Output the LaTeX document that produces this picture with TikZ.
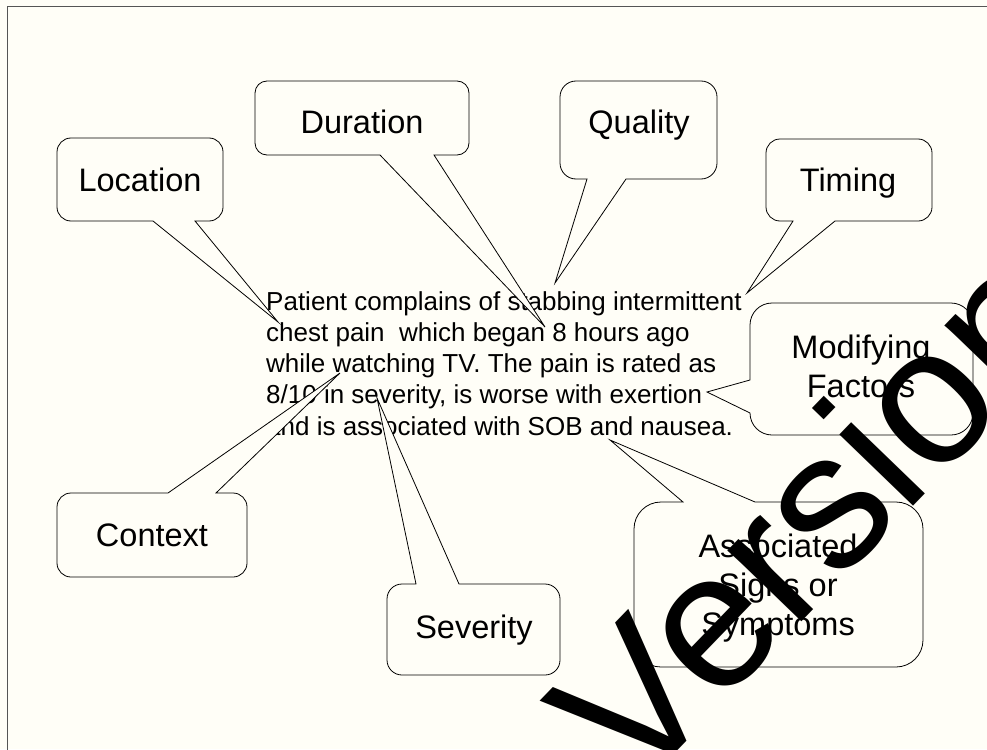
\documentclass[tikz,border=0pt]{standalone}
\usepackage{fontspec}
\setmainfont{Liberation Sans}
\definecolor{bg}{RGB}{255,254,247}
\definecolor{framec}{RGB}{85,85,85}
\tikzset{
  cbox/.style={draw=black, fill=bg, line width=0.8pt, line join=miter},
  lbl/.style={inner sep=0pt, anchor=base, font=\fontsize{32.5}{39}\selectfont},
  bodytext/.style={inner sep=0pt, anchor=base west, font=\fontsize{26}{31}\selectfont},
  wmark/.style={inner sep=0pt, anchor=base west, rotate=46, font=\fontsize{194}{194}\selectfont},
}
% x1 y1 x2 y2 r b1 b2 tip   (image coordinates, y downwards)
\newcommand\cbBottom[8]{%
  \draw[cbox] ({#1+#5},{-#2}) -- ({#3-#5},{-#2})
    arc[start angle=90,end angle=0,radius=#5] -- ({#3},{-#4+#5})
    arc[start angle=0,end angle=-90,radius=#5] -- ({#7},{-#4}) -- (#8) -- ({#6},{-#4}) -- ({#1+#5},{-#4})
    arc[start angle=270,end angle=180,radius=#5] -- ({#1},{-#2-#5})
    arc[start angle=180,end angle=90,radius=#5] -- cycle;}
\newcommand\cbTop[8]{%
  \draw[cbox] ({#1+#5},{-#2}) -- ({#6},{-#2}) -- (#8) -- ({#7},{-#2}) -- ({#3-#5},{-#2})
    arc[start angle=90,end angle=0,radius=#5] -- ({#3},{-#4+#5})
    arc[start angle=0,end angle=-90,radius=#5] -- ({#1+#5},{-#4})
    arc[start angle=270,end angle=180,radius=#5] -- ({#1},{-#2-#5})
    arc[start angle=180,end angle=90,radius=#5] -- cycle;}
\newcommand\cbLeft[8]{%
  \draw[cbox] ({#1+#5},{-#2}) -- ({#3-#5},{-#2})
    arc[start angle=90,end angle=0,radius=#5] -- ({#3},{-#4+#5})
    arc[start angle=0,end angle=-90,radius=#5] -- ({#1+#5},{-#4})
    arc[start angle=270,end angle=180,radius=#5] -- ({#1},{-#7}) -- (#8) -- ({#1},{-#6}) -- ({#1},{-#2-#5})
    arc[start angle=180,end angle=90,radius=#5] -- cycle;}
\begin{document}
\begin{tikzpicture}[x=1pt,y=1pt]
\useasboundingbox (0,0) rectangle (987,-749);
\begin{scope}
\clip (0,0) rectangle (987,-749);
\fill[bg] (0,0) rectangle (987,-749);
\draw[framec, line width=1.5pt] (7.5,-760) -- (7.5,-6.5) -- (1000,-6.5);

% main text
\node[bodytext] (l1) at (266,-310) {Patient complains of stabbing intermittent};
\node[bodytext] (l2) at (266,-341.25) {chest pain~ which began 8 hours ago};
\node[bodytext] (l3) at (266,-372.5) {while watching TV. The pain is rated as};
\node[bodytext] (l4) at (266,-403.75) {8/10 in severity, is worse with exertion};
\node[bodytext] (l5) at (266,-435) {and is associated with SOB and nausea.};

% pointer tips
\coordinate (locT) at (278,-322);
\coordinate (durT) at (545,-327);
\coordinate (quaT) at (555,-283);
\coordinate (timT) at (747,-293);
\coordinate (modT) at (707,-392);
\coordinate (assT) at (610,-440);
\coordinate (conT) at (340,-373);
\coordinate (sevT) at (377,-398);

% callouts
\cbBottom{57}{138}{223}{221}{14}{153}{195}{locT}
\cbBottom{255}{81}{469}{155}{12}{380}{434}{durT}
\cbBottom{560}{81}{717}{179}{16}{587}{626}{quaT}
\cbBottom{766}{139}{932}{221}{14}{793}{835}{timT}
\cbLeft{750}{303}{973}{435}{22}{380}{413}{modT}
\cbTop{634}{502}{923}{667}{27}{683}{755}{assT}
\cbTop{57}{493}{247}{577}{14}{168}{216}{conT}
\cbTop{387}{584}{560}{675}{15}{416}{459}{sevT}

% labels
\node[lbl] (loc) at (140,-191) {Location};
\node[lbl] (dur) at (362,-133) {Duration};
\node[lbl] (qua) at (639,-134) {Quality};
\node[lbl] (tim) at (848,-191) {Timing};
\node[lbl] (mod1) at (861,-358) {Modifying};
\node[lbl] (mod2) at (861,-397) {Factors};
\node[lbl] (ass1) at (778,-557) {Associated};
\node[lbl] (ass2) at (778,-596) {Signs or};
\node[lbl] (ass3) at (778,-635) {Symptoms};
\node[lbl] (con) at (152,-546) {Context};
\node[lbl] (sev) at (474,-638) {Severity};

% watermark
\node[wmark] (wm) at (635,-794.5) {Version};
\end{scope}
\end{tikzpicture}
\end{document}
